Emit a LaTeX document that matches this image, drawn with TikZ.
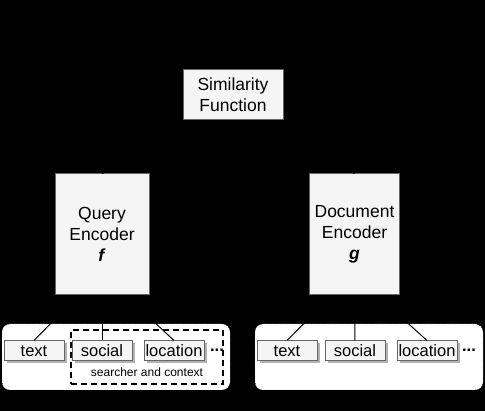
\documentclass[tikz,border=0pt]{standalone}
\usepackage{fontspec}
\setmainfont{Liberation Sans}
\usetikzlibrary{calc,shadows,arrows.meta}
\definecolor{caixa}{HTML}{F5F5F5}
\definecolor{borda}{HTML}{666666}
\tikzset{
  bloco/.style={draw=borda, fill=caixa, line width=1pt, align=center, inner sep=0pt, font=\fontsize{17.5}{21}\selectfont},
  campo/.style={draw=borda, fill=caixa, line width=1pt, minimum width=60pt, minimum height=20pt, inner sep=0pt,
    font=\fontsize{16.5}{20}\selectfont, drop shadow={shadow xshift=2.5pt, shadow yshift=-2.5pt, fill=black!30, opacity=1}},
  grupo/.style={draw=black, dotted, fill=white, rounded corners=8pt, minimum width=228pt, minimum height=66pt, inner sep=0pt},
  liga/.style={draw=black, line width=1pt},
}
\begin{document}
\begin{tikzpicture}[x=1pt,y=-1pt]
    % Fundo
    \fill[black] (0,0) rectangle (485,411);

    % Grupos de entrada
    \node[grupo] (grupoQ) at (116,357) {};
    \node[grupo] (grupoD) at (369,357) {};
    \node[draw=black, dashed, dash pattern=on 6pt off 4pt, line width=1.6pt, minimum width=152pt, minimum height=54pt, inner sep=0pt] (contexto) at (147,357) {};
    \node[font=\fontsize{12}{14}\selectfont] (rotulo) at (147,372) {searcher and context};

    % Campos
    \node[campo] (textoQ) at (34,351) {text};
    \node[campo] (socialQ) at (102,351) {social};
    \node[campo] (localQ) at (174,351) {location};
    \node[font=\fontsize{16.5}{20}\selectfont] (pontosQ) at (217,350) {\textbf{...}};
    \node[campo] (textoD) at (287,351) {text};
    \node[campo] (socialD) at (355,351) {social};
    \node[campo] (localD) at (427,351) {location};
    \node[font=\fontsize{16.5}{20}\selectfont] (pontosD) at (469,350) {\textbf{...}};

    % Codificadores e similaridade
    \node[bloco, minimum width=94pt, minimum height=121pt] (query) at (102,234.5) {Query\\Encoder\\\textbf{\textit{f}}};
    \node[bloco, minimum width=90pt, minimum height=121pt] (doc) at (354.5,234.5) {Document\\Encoder\\\textbf{\textit{g}}};
    \node[bloco, minimum width=100pt, minimum height=50pt] (sim) at (233,95) {Similarity\\Function};

    % Ligacoes
    \draw[liga, -{Stealth}] (textoQ.north) -- ($(query.south west)!0.25!(query.south east)$);
    \draw[liga, -{Stealth}] (socialQ.north) -- (query.south);
    \draw[liga, -{Stealth}] (localQ.north) -- ($(query.south west)!0.75!(query.south east)$);
    \draw[liga, -{Stealth}] (textoD.north) -- ($(doc.south west)!0.25!(doc.south east)$);
    \draw[liga, -{Stealth}] (socialD.north) -- (doc.south);
    \draw[liga, -{Stealth}] (localD.north) -- ($(doc.south west)!0.75!(doc.south east)$);
    \draw[liga, -{Stealth}] (query.north) -- ($(sim.south west)!0.17!(sim.south east)$);
    \draw[liga, -{Stealth}] (doc.north) -- ($(sim.south west)!0.76!(sim.south east)$);
\end{tikzpicture}
\end{document}
